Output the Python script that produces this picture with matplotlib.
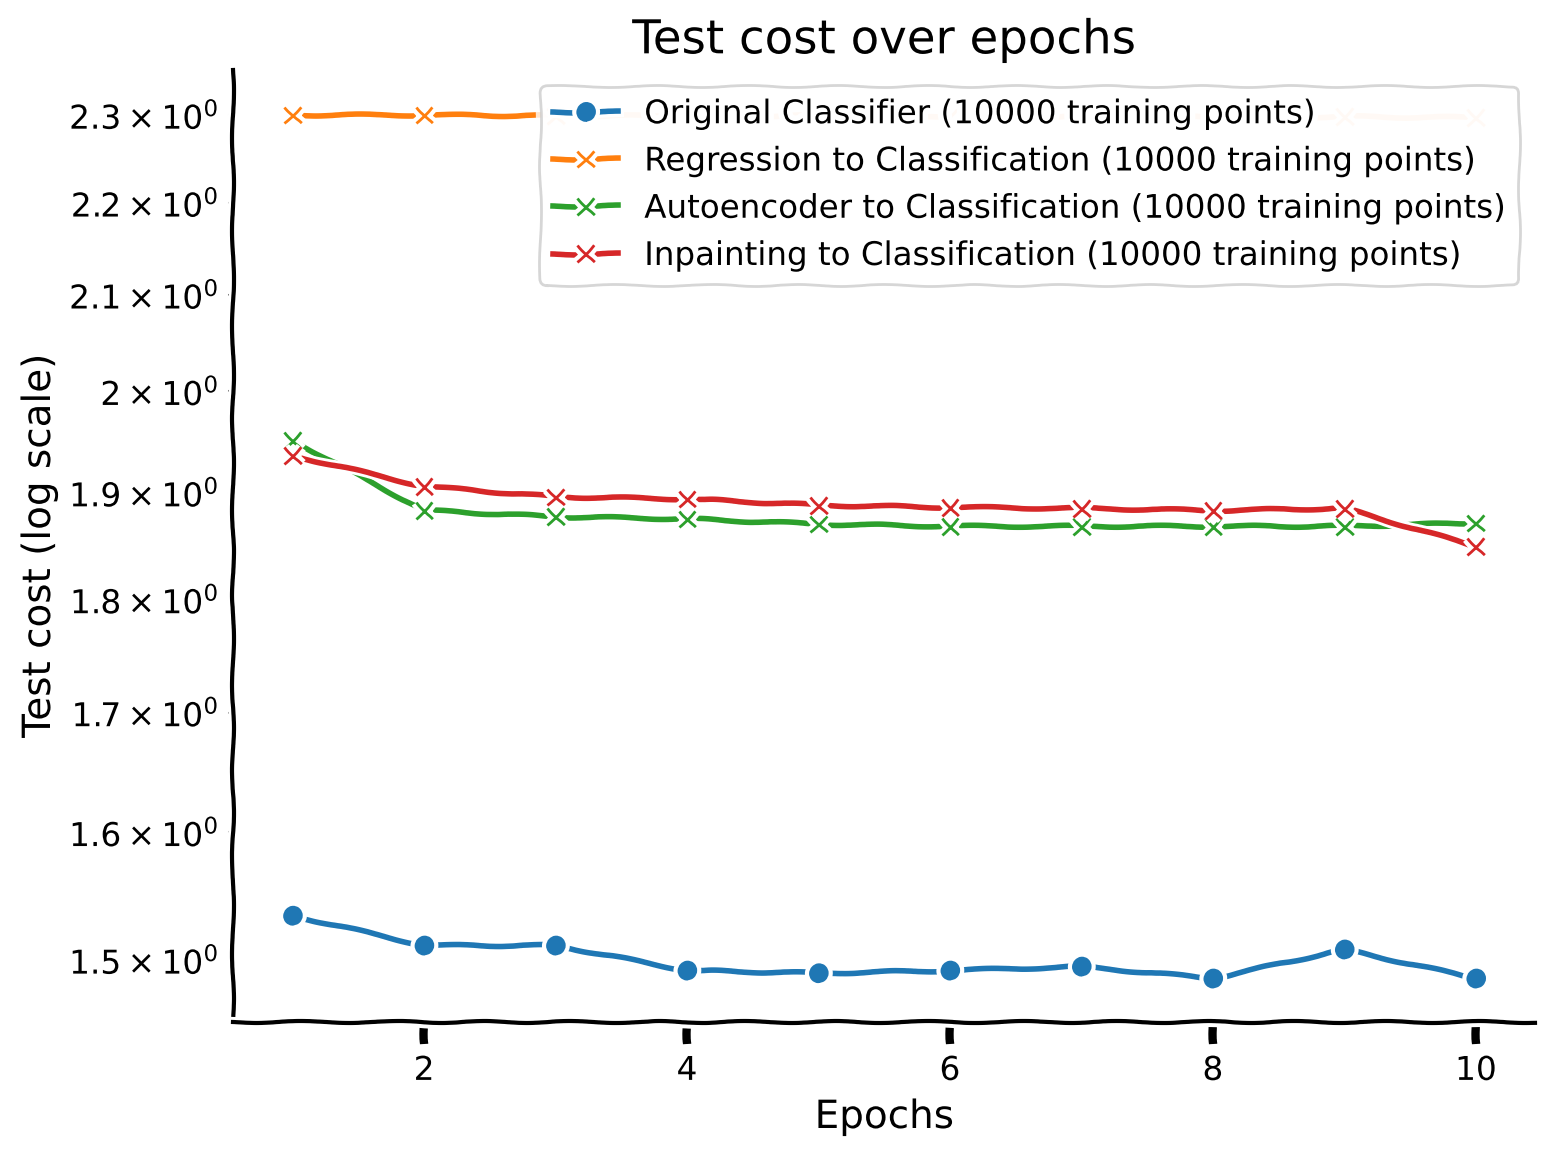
import matplotlib
matplotlib.use("Agg")
import matplotlib.pyplot as plt

epochs = [1, 2, 3, 4, 5, 6, 7, 8, 9, 10]
original = [1.534, 1.511, 1.511, 1.492, 1.490, 1.492, 1.495, 1.486, 1.508, 1.486]
regression = [2.300, 2.300, 2.299, 2.299, 2.299, 2.299, 2.298, 2.298, 2.298, 2.297]
autoencoder = [1.951, 1.883, 1.877, 1.875, 1.870, 1.868, 1.868, 1.868, 1.868, 1.871]
inpainting = [1.936, 1.906, 1.896, 1.894, 1.888, 1.886, 1.885, 1.883, 1.885, 1.849]

labels = [
    "Original Classifier (10000 training points)",
    "Regression to Classification (10000 training points)",
    "Autoencoder to Classification (10000 training points)",
    "Inpainting to Classification (10000 training points)",
]

with plt.xkcd():
    plt.rcParams['font.family'] = ['DejaVu Sans']
    fig = plt.figure(figsize=(7.78, 5.775), dpi=200)
    ax = fig.add_axes([0.150, 0.1152, 0.8365, 0.8242])
    ax.plot(epochs, original, '-o', color='#1f77b4', label=labels[0])
    ax.plot(epochs, regression, '-x', color='#ff7f0e', label=labels[1])
    ax.plot(epochs, autoencoder, '-x', color='#2ca02c', label=labels[2])
    ax.plot(epochs, inpainting, '-x', color='#d62728', label=labels[3])
    ax.set_yscale('log')
    ax.set_ylim(1.4537, 2.353)
    ax.set_title("Test cost over epochs", fontsize=16.8)
    ax.set_xlabel("Epochs", fontsize=14)
    ax.set_ylabel("Test cost (log scale)", fontsize=14)
    ax.tick_params(axis='both', which='both', labelsize=11.8)
    ax.spines['top'].set_visible(False)
    ax.spines['right'].set_visible(False)
    ax.legend(loc='upper right', fontsize=11.7)
    fig.savefig("out.png", dpi=200)
